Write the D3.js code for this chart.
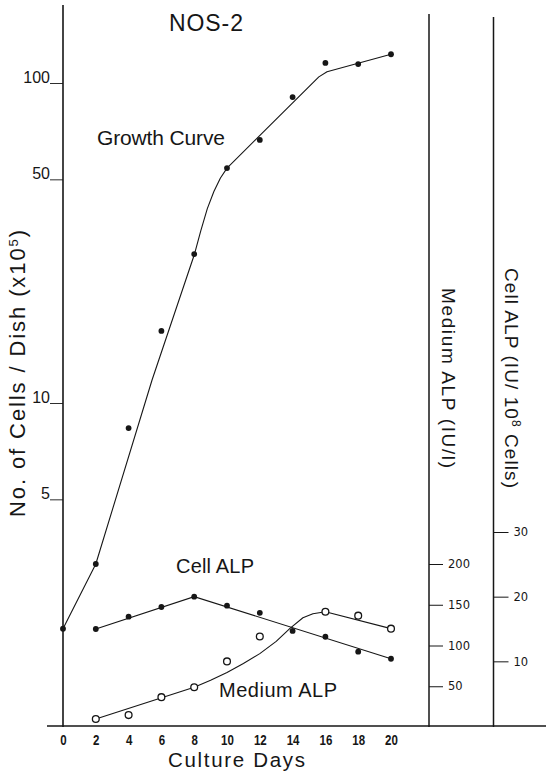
<!DOCTYPE html>
<html><head><meta charset="utf-8">
<script src="https://cdn.jsdelivr.net/npm/d3@7"></script>
<style>
html,body{margin:0;padding:0;background:#fff;}
svg{display:block;}
text{fill:#161616;font-family:"Liberation Sans",Arial,Helvetica,sans-serif;}
</style></head>
<body>
<script>
// ---- data ----
const days = [0,2,4,6,8,10,12,14,16,18,20];
const growth = [1.97,3.14,8.35,16.8,29.2,54.2,66.4,90.4,115.5,114.6,123];
const growthFitDays = [0,2,5.43,8,8.4,8.8,9.2,9.6,10,15.6,16.1,20];
const growthFitVals = [1.97,3.14,11.8,29.0,34.5,40.5,45.8,50.5,54.2,104.5,108.5,123];

const cellDays = [2,4,6,8,10,12,14,16,18,20];
const cellALP = [15.0,16.9,18.4,20.0,18.6,17.5,14.7,13.8,11.5,10.4];
const cellFitDays = [2,8,20];
const cellFitVals = [15.0,20.0,10.4];

const mediumDays = [2,4,6,8,10,12,16,18,20];
const mediumALP = [9.8,14.6,36.6,48.8,80.5,111,141.5,136.6,120.7];
const mediumFitDays = [2,8,9,10,11,12,13,13.84,14.63,15.24,16,20];
const mediumFitVals = [9.8,48.8,57.5,67,78,90,105,121,134,139,141.5,120.7];

const xTicks = [0,2,4,6,8,10,12,14,16,18,20];
const leftTicks = [5,10,50,100];
const mediumTicks = [50,100,150,200];
const cellTicks = [10,20,30];

const W = 546, H = 771;
const ink = "#161616";
const svg = d3.select("body").append("svg").attr("width",W).attr("height",H);

const x = d3.scaleLinear().domain([0,20]).range([63,391]);
const yL = d3.scaleLog().domain([1,100]).range([723,83]);
const yM = d3.scaleLinear().domain([0,200]).range([727,564]);
const yC = d3.scaleLinear().domain([0,30]).range([726,532]);

// axis lines
svg.append("line").attr("x1",47).attr("x2",546).attr("y1",726).attr("y2",726)
  .attr("stroke",ink).attr("stroke-width",1.6);
svg.append("line").attr("x1",63).attr("x2",63).attr("y1",5).attr("y2",727)
  .attr("stroke",ink).attr("stroke-width",1.6);
svg.append("line").attr("x1",429).attr("x2",429).attr("y1",14).attr("y2",727)
  .attr("stroke",ink).attr("stroke-width",1.5);
svg.append("line").attr("x1",493.5).attr("x2",493.5).attr("y1",17).attr("y2",727)
  .attr("stroke",ink).attr("stroke-width",1.5);

// left log axis
const gL = svg.append("g").attr("transform","translate(63,0)")
  .call(d3.axisLeft(yL).tickValues(leftTicks).tickFormat(d3.format("d")).tickSize(13).tickPadding(0));
gL.select(".domain").remove();
gL.selectAll(".tick line").attr("stroke",ink).attr("stroke-width",0.9);
gL.selectAll(".tick text").attr("x",-13).attr("dy","-0.05em")
  .style("font-size","16px").style("font-family","'Liberation Sans',Arial,sans-serif").attr("fill",ink);

// medium ALP axis
const gM = svg.append("g").attr("transform","translate(429,0)")
  .call(d3.axisRight(yM).tickValues(mediumTicks).tickSize(14).tickPadding(5));
gM.select(".domain").remove();
gM.selectAll(".tick line").attr("stroke",ink).attr("stroke-width",1);
gM.selectAll(".tick text").style("font-size","11.5px").style("font-family","'DejaVu Sans',sans-serif")
  .attr("fill",ink);

// cell ALP axis
const gC = svg.append("g").attr("transform","translate(493.5,0)")
  .call(d3.axisRight(yC).tickValues(cellTicks).tickSize(15).tickPadding(5));
gC.select(".domain").remove();
gC.selectAll(".tick line").attr("stroke",ink).attr("stroke-width",1);
gC.selectAll(".tick text").style("font-size","11.5px").style("font-family","'DejaVu Sans',sans-serif")
  .attr("fill",ink);

// x axis labels (bold, condensed)
const gX = svg.append("g").attr("transform","translate(0,726)")
  .call(d3.axisBottom(x).tickValues(xTicks).tickSize(0).tickPadding(0));
gX.select(".domain").remove();
gX.selectAll(".tick text").attr("y",19).attr("dy","0")
  .attr("textLength",d=>String(d).length*6.4).attr("lengthAdjust","spacingAndGlyphs")
  .style("font-size","15.5px").style("font-weight","bold")
  .style("font-family","'Liberation Sans',Arial,sans-serif").attr("fill",ink);

// fitted lines
const line = (ys) => d3.line().x(d=>x(d[0])).y(d=>ys(d[1]));
svg.append("path").datum(growthFitDays.map((d,i)=>[d,growthFitVals[i]]))
  .attr("d",line(yL)).attr("fill","none").attr("stroke",ink).attr("stroke-width",1.1)
  .attr("stroke-linejoin","round");
svg.append("path").datum(cellFitDays.map((d,i)=>[d,cellFitVals[i]]))
  .attr("d",line(yC)).attr("fill","none").attr("stroke",ink).attr("stroke-width",1.1);
svg.append("path").datum(mediumFitDays.map((d,i)=>[d,mediumFitVals[i]]))
  .attr("d",line(yM)).attr("fill","none").attr("stroke",ink).attr("stroke-width",1.1)
  .attr("stroke-linejoin","round");

// points
svg.append("g").selectAll("circle").data(days.map((d,i)=>[d,growth[i]])).join("circle")
  .attr("cx",d=>x(d[0])).attr("cy",d=>yL(d[1])).attr("r",2.9).attr("fill",ink);
svg.append("g").selectAll("circle").data(cellDays.map((d,i)=>[d,cellALP[i]])).join("circle")
  .attr("cx",d=>x(d[0])).attr("cy",d=>yC(d[1])).attr("r",2.9).attr("fill",ink);
svg.append("g").selectAll("circle").data(mediumDays.map((d,i)=>[d,mediumALP[i]])).join("circle")
  .attr("cx",d=>x(d[0])).attr("cy",d=>yM(d[1])).attr("r",3.4).attr("fill","#fff")
  .attr("stroke",ink).attr("stroke-width",1.3);

// labels
function label(t, xx, yy, size, len){
  const el = svg.append("text").attr("x",xx).attr("y",yy).style("font-size",size+"px").text(t);
  if(len) el.attr("textLength",len).attr("lengthAdjust","spacing");
  return el;
}
label("NOS-2",169,31,23,74);
label("Growth Curve",97,145,21,128);
label("Cell ALP",176,573,20,78);
label("Medium ALP",219,697,20,118);
label("Culture Days",168,767,20.5,137);

// left title
const lt = svg.append("text").attr("transform","translate(25,517) rotate(-90)")
  .style("font-size","22px").attr("textLength",287).attr("lengthAdjust","spacing");
lt.append("tspan").text("No. of Cells / Dish  (x10");
lt.append("tspan").text("5").style("font-size","13px").attr("baseline-shift","super");
lt.append("tspan").text(")");

// right titles
svg.append("text").attr("transform","translate(442,288) rotate(90)")
  .style("font-size","19px").attr("textLength",180).attr("lengthAdjust","spacing")
  .text("Medium ALP  (IU/l)");
const ct = svg.append("text").attr("transform","translate(505,268) rotate(90)")
  .style("font-size","19px").attr("textLength",220).attr("lengthAdjust","spacing");
ct.append("tspan").text("Cell ALP  (IU/ 10");
ct.append("tspan").text("8").style("font-size","12px").attr("baseline-shift","super");
ct.append("tspan").text(" Cells)");
</script>
</body></html>
